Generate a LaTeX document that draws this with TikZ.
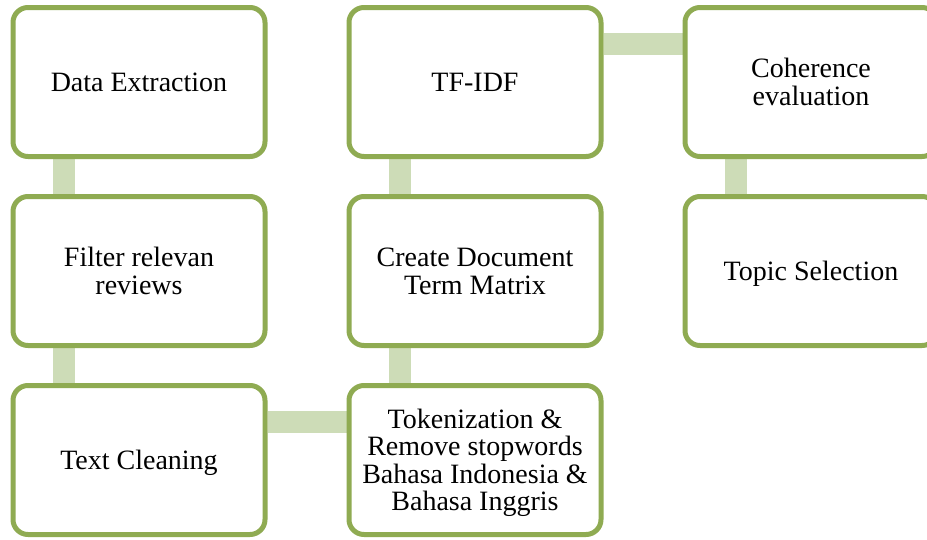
\documentclass[tikz,border=0pt]{standalone}
\usepackage{fontspec}
\setmainfont{Liberation Serif}
\usepackage{tikz}
\usetikzlibrary{backgrounds, positioning}
\definecolor{boxgreen}{RGB}{143,171,82}
\definecolor{linkgreen}{RGB}{205,220,183}

\begin{document}
\begin{tikzpicture}
    [
      x=1pt,
      y=1pt,
      stage/.style={rectangle,rounded corners=15pt,draw=boxgreen,line width=5pt,fill=white,
        minimum width=252pt,minimum height=149pt,inner sep=4pt,
        text width=236pt,align=flush center,
        font=\fontsize{28}{27.5}\selectfont,
        execute at begin node={\rule{0pt}{25pt}},
        execute at end node={\rule[-6pt]{0pt}{6pt}}},
      link/.style={draw=linkgreen,line width=22pt},
    ]
    \useasboundingbox (0,0) rectangle (927,-539);
    \clip (0,0) rectangle (927,-539);

    \node at (139, -82)  [stage] (extract) {Data Extraction};
    \node at (139, -271) [stage] (filter)  {Filter relevan\\reviews};
    \node at (139, -460) [stage] (clean)   {Text Cleaning};
    \node at (475, -460) [stage] (token)   {Tokenization \&\\Remove stopwords\\Bahasa Indonesia \&\\Bahasa Inggris};
    \node at (475, -271) [stage] (dtm)     {Create Document\\Term Matrix};
    \node at (475, -82)  [stage] (tfidf)   {TF-IDF};
    \node at (811, -82)  [stage] (coher)   {Coherence\\evaluation};
    \node at (811, -271) [stage] (topic)   {Topic Selection};

    \begin{scope}[on background layer]
      \draw[link] ([xshift=53.5pt]extract.south west) -- ([xshift=53.5pt]filter.north west);
      \draw[link] ([xshift=53.5pt]filter.south west) -- ([xshift=53.5pt]clean.north west);
      \draw[link] ([yshift=-39pt]clean.north east) -- ([yshift=-39pt]token.north west);
      \draw[link] ([xshift=53.5pt]dtm.south west) -- ([xshift=53.5pt]token.north west);
      \draw[link] ([xshift=53.5pt]tfidf.south west) -- ([xshift=53.5pt]dtm.north west);
      \draw[link] ([yshift=-39pt]tfidf.north east) -- ([yshift=-39pt]coher.north west);
      \draw[link] ([xshift=53.5pt]coher.south west) -- ([xshift=53.5pt]topic.north west);
    \end{scope}
  \end{tikzpicture}
\end{document}
